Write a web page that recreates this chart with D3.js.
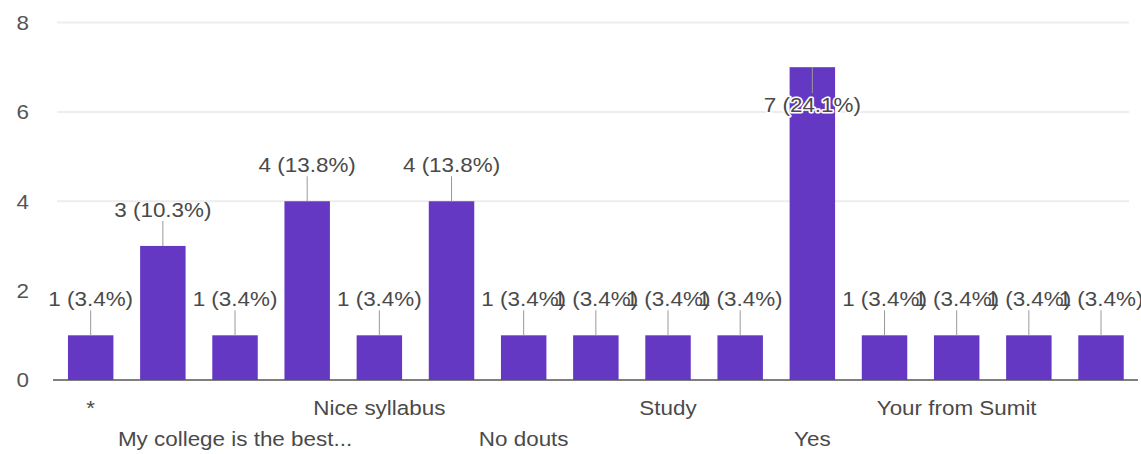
<!DOCTYPE html>
<html>
<head>
<meta charset="utf-8">
<script src="https://cdn.jsdelivr.net/npm/d3@7/dist/d3.min.js"></script>
<style>
  html, body { margin: 0; padding: 0; background: #fff; }
  svg { display: block; }
  text { font-family: "Liberation Sans", Arial, sans-serif; }
</style>
</head>
<body>
<svg id="chart" width="1141" height="454"></svg>
<script>
// Category labels (only every other one is visible in the reference; unseen ones left blank)
const categories = ["*", "", "My college is the best...", "", "Nice syllabus", "", "No douts", "",
                    "Study", "", "Yes", "", "Your from Sumit", "", ""];
const counts = [1, 3, 1, 4, 1, 4, 1, 1, 1, 1, 7, 1, 1, 1, 1];
const yTicks = [0, 2, 4, 6, 8];
const gridTicks = [4, 6, 8];

const total = d3.sum(counts);
const fmtPct = v => (v / total * 100).toFixed(1) + "%";

const svg = d3.select("#chart");
const FS = 19.5, SX = 1.15;   // font size and horizontal stretch of the reference's text
const textColor = "#4a4a4a";

const x = d3.scaleBand()
  .domain(d3.range(categories.length))
  .range([54.6, 1137.1])
  .paddingInner(0.37)
  .paddingOuter(0.185);

const y = d3.scaleLinear().domain([0, 8]).range([380, 22.5]);

// Gridlines
svg.append("g").selectAll("line").data(gridTicks).join("line")
  .attr("x1", 57).attr("x2", 1129)
  .attr("y1", d => y(d)).attr("y2", d => y(d))
  .attr("stroke", "#ededed").attr("stroke-width", 2);

// Y axis labels
const yAxis = d3.axisLeft(y).tickValues(yTicks).tickSize(0).tickPadding(0);
const yg = svg.append("g").attr("transform", "translate(29,0)").call(yAxis);
yg.select(".domain").remove();
yg.selectAll(".tick text")
  .attr("x", 0).attr("dy", "0.35em")
  .attr("text-anchor", "end")
  .style("font-family", '"Liberation Sans", Arial, sans-serif')
  .style("font-size", FS + "px")
  .attr("fill", "#555")
  .attr("transform", `scale(${SX},1)`);

// Bars
svg.append("g").selectAll("rect").data(counts).join("rect")
  .attr("x", (d, i) => x(i))
  .attr("width", x.bandwidth())
  .attr("y", d => y(d))
  .attr("height", d => y(0) - y(d))
  .attr("fill", "#6538c4");

// Baseline
svg.append("line")
  .attr("x1", 53).attr("x2", 1138)
  .attr("y1", y(0)).attr("y2", y(0))
  .attr("stroke", "#555").attr("stroke-width", 1.5);

// Annotations
const annData = counts.map((v, i) => {
  const cx = x(i) + x.bandwidth() / 2;
  const top = y(v);
  let textC = top - 36, s1 = top - 25, s2 = top, inside = false;
  if (textC - 10 < y(8)) {        // no room above the bar: put it inside
    textC = top + 38; s1 = top; s2 = top + 26; inside = true;
  }
  return { cx, textC, s1, s2, inside, label: `${v} (${fmtPct(v)})` };
});

const ann = svg.append("g");
ann.selectAll("line").data(annData).join("line")
  .attr("x1", d => d.cx).attr("x2", d => d.cx)
  .attr("y1", d => d.s1).attr("y2", d => d.s2)
  .attr("stroke", "#999").attr("stroke-width", 1);

ann.append("g").selectAll("g").data(annData).join("g")
  .attr("transform", d => `translate(${d.cx},${d.textC}) scale(${SX},1)`)
  .append("text")
  .attr("text-anchor", "middle")
  .attr("dy", "0.35em")
  .style("font-size", FS + "px")
  .attr("fill", textColor)
  .attr("stroke", d => d.inside ? "#fff" : "none")
  .attr("stroke-width", d => d.inside ? 3 : 0)
  .attr("paint-order", "stroke")
  .attr("stroke-linejoin", "round")
  .text(d => d.label);

// X axis labels (alternating rows)
const xl = svg.append("g");
categories.forEach((c, i) => {
  if (i % 2 !== 0 || !c) return;
  const row = (i / 2) % 2;
  const cy = row === 0 ? 408 : 439;
  xl.append("g")
    .attr("transform", `translate(${x(i) + x.bandwidth() / 2},${cy}) scale(${SX},1)`)
    .append("text")
    .attr("text-anchor", "middle")
    .attr("dy", "0.35em")
    .style("font-size", FS + "px")
    .attr("fill", textColor)
    .text(c);
});
</script>
</body>
</html>
